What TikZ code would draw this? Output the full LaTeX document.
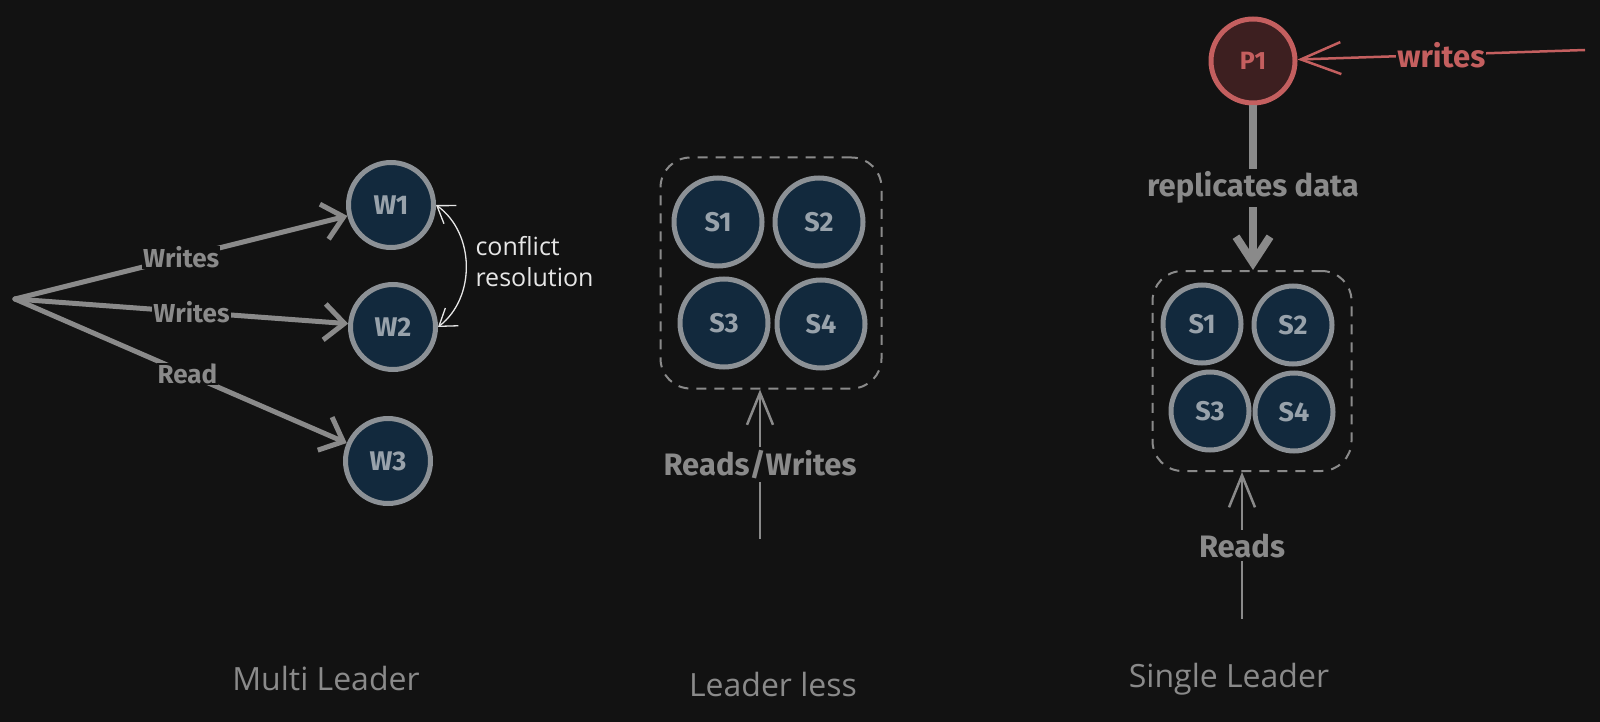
\documentclass[tikz,border=0pt]{standalone}
\usepackage{fontspec}
\setmainfont{Fira Sans}
\newfontfamily\handfont{Open Sans}
\usetikzlibrary{arrows.meta,bending}
\definecolor{bg}{HTML}{121212}
\definecolor{nodefill}{HTML}{12293D}
\definecolor{nodeedge}{HTML}{8C9196}
\definecolor{nodetext}{HTML}{98A2AB}
\definecolor{agray}{HTML}{8A8A8A}
\definecolor{redfill}{HTML}{3D1F20}
\definecolor{rededge}{HTML}{C45F5F}
\definecolor{handwhite}{HTML}{E6E6E6}
\tikzset{
  srv/.style={circle, draw=nodeedge, fill=nodefill, line width=5pt, minimum size=#1, inner sep=0pt,
    text=nodetext, font=\fontsize{27}{27}\selectfont\bfseries},
  srv/.default=85pt,
  bigline/.style={draw=agray, line width=5pt, line cap=round, -{Straight Barb[length=20pt,width=36pt]}},
  thinline/.style={draw=agray, line width=2.5pt, -{Straight Barb[length=32pt,width=26pt]}},
  lbl/.style={fill=bg, text=agray, inner sep=1pt, font=\fontsize{26}{26}\selectfont\bfseries},
  biglbl/.style={fill=bg, text=agray, inner sep=3pt, font=\fontsize{31}{31}\selectfont\bfseries},
  groupbox/.style={draw=agray, line width=2pt, dash pattern=on 10pt off 8pt, rounded corners=30pt,
    minimum width=#1, inner sep=0pt},
  caption/.style={text=agray, font=\handfont\fontsize{32}{32}\selectfont}
}
\begin{document}
\begin{tikzpicture}[x=1pt,y=-1pt]
\fill[bg] (0,0) rectangle (1600,722);
\useasboundingbox (0,0) rectangle (1600,722);

% ---------- Multi Leader ----------
\coordinate (src) at (15,299);
\node[srv] (W1) at (391,205) {W1};
\node[srv] (W2) at (393,327) {W2};
\node[srv] (W3) at (388,461) {W3};
\draw[bigline] (src) -- node[lbl,pos=0.5] {Writes} (W1);
\draw[bigline] (src) -- node[lbl,pos=0.53] {Writes} (W2);
\draw[bigline] (src) -- node[lbl,pos=0.52] {Read} (W3);
\draw[draw=handwhite, line width=1.3pt,
  {Straight Barb[length=16pt,width=22pt]}-{Straight Barb[length=16pt,width=22pt]}]
  (W1.east) to[bend left=55] (W2.east);
\node[anchor=west, align=left, text=handwhite, font=\handfont\fontsize{25}{31}\selectfont] (cr) at (472,262) {conflict\\resolution};
\node[caption] (cap1) at (326,678) {Multi Leader};

% ---------- Leader less ----------
\node[groupbox=221pt, minimum height=231pt] (llbox) at (771,273) {};
\node[srv=88pt] (LS1) at (718,222) {S1};
\node[srv=88pt] (LS2) at (819,222) {S2};
\node[srv=88pt] (LS3) at (724,323) {S3};
\node[srv=88pt] (LS4) at (821,324) {S4};
\coordinate (rwsrc) at (760,539);
\draw[thinline] (rwsrc) -- node[biglbl] {Reads/Writes} (rwsrc |- llbox.south);
\node[caption] (cap2) at (773,684) {Leader less};

% ---------- Single Leader ----------
\node[circle, draw=rededge, fill=redfill, line width=5pt, minimum size=84pt, inner sep=0pt,
  text=rededge, font=\fontsize{25}{25}\selectfont\bfseries] (P1) at (1253,61) {P1};
\coordinate (wsrc) at (1585,50);
\draw[draw=rededge, line width=2.5pt, -{Straight Barb[length=40pt,width=32pt]}]
  (wsrc) -- node[fill=bg, text=rededge, inner sep=1pt, font=\fontsize{31}{31}\selectfont\bfseries] {writes} (P1);
\node[groupbox=199pt, minimum height=200pt] (sbox) at (1252,371) {};
\node[srv=78pt] (SS1) at (1202,324) {S1};
\node[srv=78pt] (SS2) at (1293,325) {S2};
\node[srv=78pt] (SS3) at (1210,411) {S3};
\node[srv=78pt] (SS4) at (1294,412) {S4};
\draw[draw=agray, line width=8pt, -{Straight Barb[length=26pt,width=34pt]}]
  (P1) -- node[biglbl] {replicates data} (P1 |- sbox.north);
\coordinate (rsrc) at (1242,619);
\draw[thinline] (rsrc) -- node[biglbl] {Reads} (rsrc |- sbox.south);
\node[caption] (cap3) at (1229,679) {Single Leader};
\end{tikzpicture}
\end{document}
